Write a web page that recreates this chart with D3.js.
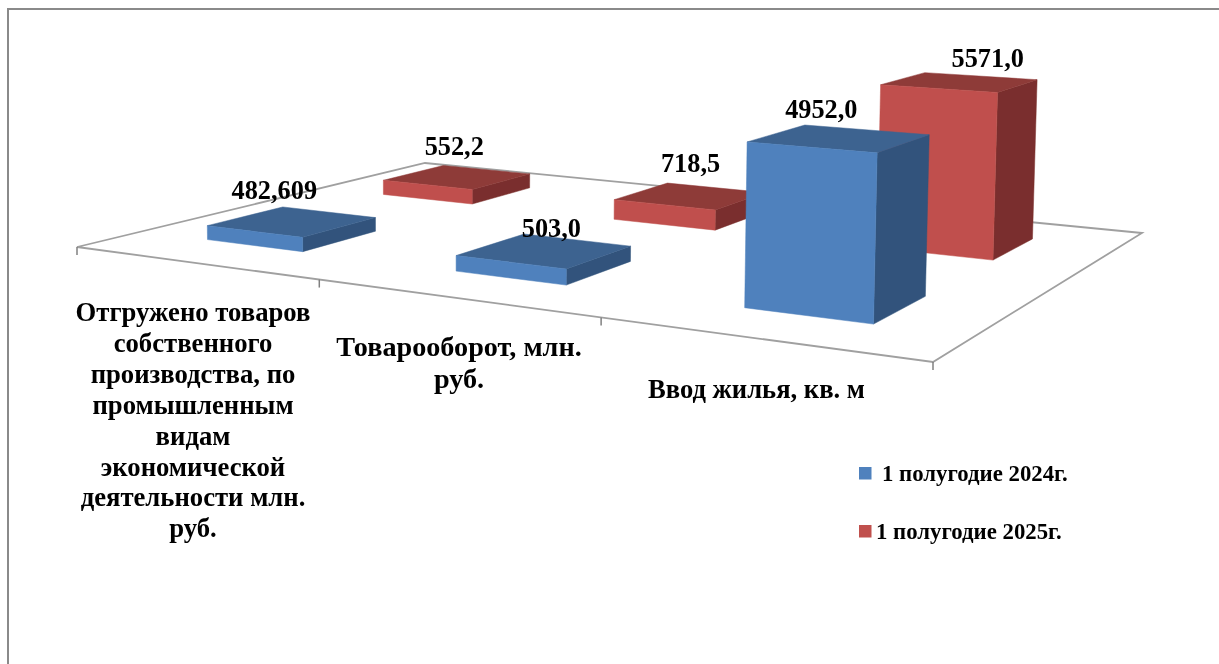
<!DOCTYPE html>
<html lang="ru">
<head>
<meta charset="utf-8">
<script src="https://cdn.jsdelivr.net/npm/d3@7/dist/d3.min.js"></script>
<style>
html,body{margin:0;padding:0;background:#fff;overflow:hidden}
svg{display:block}
text{font-family:"Liberation Serif","Times New Roman",serif;font-weight:bold;fill:#000}
</style>
</head>
<body>
<svg id="c" width="1219" height="664"></svg>
<script>
const categories = ["cat1", "cat2", "cat3"];
const categoryLines = [
  ["Отгружено товаров","собственного","производства, по","промышленным","видам","экономической","деятельности млн.","руб."],
  ["Товарооборот, млн.","руб."],
  ["Ввод жилья, кв. м"]
];
const seriesNames = ["1 полугодие 2024г.", "1 полугодие 2025г."];
const values2024 = [482.609, 503.0, 4952.0];
const values2025 = [552.2, 718.5, 5571.0];
const labels2024 = ["482,609", "503,0", "4952,0"];
const labels2025 = ["552,2", "718,5", "5571,0"];

const svg = d3.select("#c");
const defs = svg.append("defs");
defs.append("filter").attr("id","soft").append("feGaussianBlur").attr("stdDeviation",0.45);
defs.append("filter").attr("id","softText").append("feGaussianBlur").attr("stdDeviation",0.3);

// floor plane: unit square (u along categories, v in depth) -> screen homography
const corners = [[77,247],[933,362],[1142,233],[425,163]];
function makeHomography(q){
  const [[x0,y0],[x1,y1],[x2,y2],[x3,y3]] = q;
  const dx1=x1-x2, dx2=x3-x2, sx=x0-x1+x2-x3;
  const dy1=y1-y2, dy2=y3-y2, sy=y0-y1+y2-y3;
  const det=dx1*dy2-dx2*dy1;
  const g=(sx*dy2-dx2*sy)/det, h=(dx1*sy-sx*dy1)/det;
  const a=x1-x0+g*x1, b=x3-x0+h*x3, d=y1-y0+g*y1, e=y3-y0+h*y3;
  return (u,v)=>{ const w=g*u+h*v+1; return {x:(a*u+b*v+x0)/w, y:(d*u+e*v+y0)/w, w}; };
}
const project = makeHomography(corners);

const uBand = d3.scaleBand().domain(categories).range([-0.004,1.002]).paddingInner(0.6).paddingOuter(0.3);
const vBand = d3.scaleBand().domain(seriesNames).range([0.005,1.005]).paddingInner(0.6).paddingOuter(0.3);
const hScale = d3.scaleLinear().domain([0,6000]).range([0,176.4]);
const tickScale = d3.scaleLinear().domain([0,categories.length]).range([0,1]);

// a point at floor position (u,v), raised by value
function pt(u,v,val){
  const p = project(u,v);
  const h = hScale(val)/p.w;
  return [p.x + h*(p.x-450)*5e-5, p.y - h];
}

const colours = [
  {front:"#4F81BD", top:"#3D6390", side:"#31537B", swatch:"#4F81BD"},
  {front:"#C0504D", top:"#8E3A38", side:"#7A2F2D", swatch:"#C0504D"}
];

const marks = svg.append("g").attr("filter","url(#soft)");

// page border
marks.append("path").attr("d",d3.line()([[8,664],[8,9],[1219,9]]))
  .attr("fill","none").attr("stroke","#8a8a8a").attr("stroke-width",2);

// floor
marks.append("path").attr("d",d3.line()(corners)+"Z")
  .attr("fill","#fff").attr("stroke","#a0a0a0").attr("stroke-width",1.8);
d3.range(categories.length+1).forEach(i=>{
  const p = project(tickScale(i),0);
  marks.append("line").attr("x1",p.x).attr("x2",p.x).attr("y1",p.y).attr("y2",p.y+8)
    .attr("stroke","#808080").attr("stroke-width",1.5);
});

const poly = d3.line();
function drawBar(cat,serie,val,c){
  const u0=uBand(cat), u1=u0+uBand.bandwidth();
  const v0=vBand(serie), v1=v0+vBand.bandwidth();
  const g = marks.append("g");
  g.append("path").attr("fill",c.side).attr("stroke",c.side).attr("stroke-width",0.5)
    .attr("d",poly([pt(u1,v0,0),pt(u1,v1,0),pt(u1,v1,val),pt(u1,v0,val)])+"Z");
  g.append("path").attr("fill",c.top).attr("stroke",c.top).attr("stroke-width",0.5)
    .attr("d",poly([pt(u0,v0,val),pt(u1,v0,val),pt(u1,v1,val),pt(u0,v1,val)])+"Z");
  g.append("path").attr("fill",c.front).attr("stroke",c.front).attr("stroke-width",0.5)
    .attr("d",poly([pt(u0,v0,0),pt(u1,v0,0),pt(u1,v0,val),pt(u0,v0,val)])+"Z");
}
categories.forEach((cat,i)=>drawBar(cat,seriesNames[1],values2025[i],colours[1]));
categories.forEach((cat,i)=>drawBar(cat,seriesNames[0],values2024[i],colours[0]));

const labelsG = svg.append("g").attr("filter","url(#softText)");

// value labels: centred above each bar's top, with small per-label offsets
function valueLabel(cat,serie,val,txt,dx,dy){
  const uc=uBand(cat)+uBand.bandwidth()/2, vc=vBand(serie)+vBand.bandwidth()/2;
  const p=pt(uc,vc,val);
  labelsG.append("text").attr("x",p[0]+dx).attr("y",p[1]+dy).attr("text-anchor","middle")
    .attr("font-size",26.3).text(txt);
}
const off2024=[[-18,-23],[7,-14],[-18,-20]];
const off2025=[[-3,-22],[0,-24],[28,-15]];
categories.forEach((cat,i)=>{
  valueLabel(cat,seriesNames[1],values2025[i],labels2025[i],off2025[i][0],off2025[i][1]);
  valueLabel(cat,seriesNames[0],values2024[i],labels2024[i],off2024[i][0],off2024[i][1]);
});

// category labels
const catX=[193,459,756.5], catY=[321,356,398], lineH=[30.9,32,0], catSize=[26.7,28.2,26.6];
categoryLines.forEach((lines,i)=>{
  lines.forEach((s,j)=>{
    labelsG.append("text").attr("x",catX[i]).attr("y",catY[i]+j*lineH[i]).attr("text-anchor","middle")
      .attr("font-size",catSize[i]).text(s);
  });
});

// legend
const legendY=[473,531], legendTextX=[882,876];
seriesNames.forEach((s,i)=>{
  svg.append("rect").attr("x",859).attr("y",legendY[i]-6).attr("width",12.5).attr("height",12.5)
    .attr("fill",colours[i].swatch);
  labelsG.append("text").attr("x",legendTextX[i]).attr("y",legendY[i]+8).attr("font-size",22.8).text(s);
});
</script>
</body>
</html>
